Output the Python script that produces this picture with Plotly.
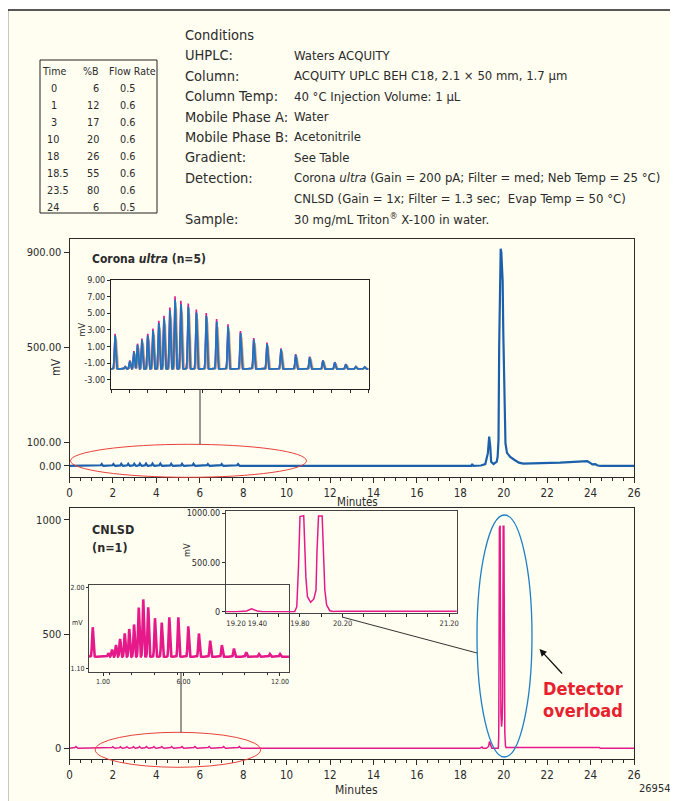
import numpy as np
import plotly.graph_objects as go

W, H = 678, 801
OFF = 8  # page body margin in the browser


def X(px):
    return (px - OFF) / W


def Y(py):
    return 1 - (py - OFF) / H


FONT = "DejaVu Sans Condensed, Liberation Sans Narrow, Liberation Sans, sans-serif"
CREAM = "#FFFEF1"
INK = "#2b2b2b"

# ---------------- gradient table ----------------
grad_time = ["0", "1", "3", "10", "18", "18.5", "23.5", "24"]
grad_pct_b = ["6", "12", "17", "20", "26", "55", "80", "6"]
grad_flow = ["0.5", "0.6", "0.6", "0.6", "0.6", "0.6", "0.6", "0.5"]

# ---------------- conditions ----------------
cond_labels = ["Conditions", "UHPLC:", "Column:", "Column Temp:", "Mobile Phase A:",
               "Mobile Phase B:", "Gradient:", "Detection:", "", "Sample:"]
cond_values = ["", "Waters ACQUITY", "ACQUITY UPLC BEH C18, 2.1 × 50 mm, 1.7 µm",
               "40 °C Injection Volume: 1 µL", "Water", "Acetonitrile", "See Table",
               "Corona <i>ultra</i> (Gain = 200 pA; Filter = med; Neb Temp = 25 °C)",
               "CNLSD (Gain = 1x; Filter = 1.3 sec;  Evap Temp = 50 °C)",
               "30 mg/mL Triton<sup>®</sup> X-100 in water."]

# ---------------- axes ticks ----------------
main_xticks = list(range(0, 27, 2))
corona_yticks = [0, 100, 500, 900]
cnlsd_yticks = [0, 500, 1000]
inset1_yticks = [-3, -1, 1, 3, 5, 7, 9]
inset2_xticks = [1, 6, 12]
inset2_yticks = [1.10, 2.00]
inset3_xticks = [19.2, 19.4, 19.6, 19.8, 20.0, 20.2, 20.4, 20.6, 20.8, 21.0, 21.2]
inset3_xlabels = ["19.20", "19.40", "", "19.80", "", "20.20", "", "", "", "", "21.20"]
inset3_yticks = [0, 500, 1000]
inset3_ylabels = ["0", "500.00", "1000.00"]

# ---------------- Corona ultra data ----------------
# oligomer peaks shown in the inset (mV, absolute)
corona_peak_t = [1.11, 1.38, 1.51, 1.62, 1.72, 1.84, 2.00, 2.14, 2.30, 2.44, 2.60, 2.74, 2.90,
                 3.10, 3.32, 3.59, 3.87, 4.18, 4.52, 4.88, 5.24, 5.62, 6.02, 6.40, 6.76, 7.08,
                 7.38, 7.65, 7.89]
corona_peak_mv = [2.33, -1.42, -0.73, 0.36, 1.20, 1.80, 2.33, 2.94, 3.83, 4.40, 5.36, 6.62, 6.13,
                  5.80, 5.12, 4.72, 4.03, 3.42, 2.66, 1.85, 1.33, 0.68, 0.00, -0.28, -0.70, -0.90,
                  -1.13, -1.42, -1.45]
corona_inset_baseline = -1.7
# replicate traces (n=5)
rep_colors = ["#F2A68E", "#E8198B", "#5DAA5A", "#7B7FB8", "#1E72C0"]
rep_shift = [0.035, 0.0, 0.012, 0.006, 0.0]
rep_scale = [0.88, 1.05, 0.97, 0.99, 1.0]
# small oligomer blips on the full-scale chromatogram
corona_small_t = [1.48, 2.02, 2.38, 2.70, 2.98, 3.24, 3.52, 3.82, 4.18, 4.68, 5.18, 5.71, 6.37, 7.01, 7.76]
corona_small_mv = [8, 8, 9, 9, 9, 10, 10, 10, 10, 9, 9, 9, 8, 8, 8]
# main chromatogram, late-eluting region
corona_main_t = [17.0, 18.5, 18.55, 18.6, 18.95, 19.15, 19.27, 19.33, 19.38, 19.42, 19.53, 19.68,
                 19.72, 19.76, 19.79, 19.82, 19.86, 19.89, 19.92, 19.95, 19.98, 20.01, 20.04,
                 20.08, 20.15, 20.3, 20.5, 20.7, 20.9, 21.7, 22.15, 22.6, 23.2, 23.85, 24.0,
                 24.08, 24.22, 24.3, 24.45, 26.0]
corona_main_mv = [0, 0, 8, 0, 2, 8, 54, 124, 82, 18, 8, 18,
                  40, 110, 500, 820, 915, 900, 850, 780, 560, 360, 180,
                  95, 55, 38, 25, 14, 10, 10, 13, 14, 18, 20, 12,
                  7, 8, 3, 0, 0]

# ---------------- CNLSD data ----------------
cnlsd_peak_t = [0.36, 1.33, 1.56, 1.81, 2.06, 2.35, 2.63, 2.93, 3.22, 3.50, 3.81, 4.23, 4.65,
                5.12, 5.68, 6.30, 6.96, 7.66, 8.39, 9.14, 9.90, 10.69, 11.37, 12.00]
cnlsd_peak_mv = [1.56, 1.27, 1.31, 1.36, 1.43, 1.49, 1.54, 1.59, 1.78, 1.87, 1.78, 1.66, 1.61,
                 1.67, 1.67, 1.57, 1.49, 1.41, 1.36, 1.32, 1.28, 1.26, 1.26, 1.26]
cnlsd_inset_baseline = 1.23
cnlsd_small_t = [0.29, 1.99, 2.34, 2.64, 2.94, 3.22, 3.54, 3.88, 4.24, 4.70, 5.17, 5.77, 6.42, 7.09, 7.81]
cnlsd_small_mv = [8, 7, 7, 7, 7, 8, 8, 8, 8, 8, 8, 8, 8, 8, 8]
cnlsd_main_t = [17.0, 18.9, 19.0, 19.05, 19.2, 19.3, 19.345, 19.4, 19.45, 19.75, 19.77, 19.786,
                19.8, 19.835, 19.845, 19.855, 19.87, 19.9, 19.93, 19.95, 19.96, 19.974, 20.008,
                20.017, 20.033, 20.05, 20.08, 20.11, 20.2, 24.4, 24.45, 26.0]
cnlsd_main_mv = [0, 0, 6, 0, 0, 8, 30, 8, 0, 0, 51, 457,
                 965, 975, 678, 356, 152, 95, 129, 220, 627, 972, 972,
                 627, 220, 68, 10, 3, 4, 4, 0, 0]

PINK = "#E6198A"
BLUE_MAIN = "#1C5FAA"


def gauss_sum(t, centers, heights, sigma):
    y = np.zeros_like(t)
    for c, h in zip(centers, heights):
        y += h * np.exp(-0.5 * ((t - c) / sigma) ** 2)
    return y


fig = go.Figure()

t_early = np.arange(0.0, 17.0, 0.004)

# ---- main Corona trace ----
y_early = gauss_sum(t_early, corona_small_t, corona_small_mv, 0.025)
fig.add_trace(go.Scatter(x=np.concatenate([t_early, corona_main_t]),
                         y=np.concatenate([y_early, corona_main_mv]),
                         mode="lines", line=dict(color=BLUE_MAIN, width=2.2),
                         xaxis="x", yaxis="y", hoverinfo="skip"))

# ---- main CNLSD trace ----
y_early2 = gauss_sum(t_early, cnlsd_small_t, cnlsd_small_mv, 0.03)
fig.add_trace(go.Scatter(x=np.concatenate([t_early, cnlsd_main_t]),
                         y=np.concatenate([y_early2, cnlsd_main_mv]),
                         mode="lines", line=dict(color=PINK, width=1.5),
                         xaxis="x2", yaxis="y2", hoverinfo="skip"))

# ---- inset 1: Corona replicates ----
t1 = np.arange(1.0, 8.0001, 0.003)
corona_rel = [h - corona_inset_baseline for h in corona_peak_mv]
for col, sh, sc in zip(rep_colors, rep_shift, rep_scale):
    y1 = corona_inset_baseline + gauss_sum(t1, [c + sh for c in corona_peak_t],
                                           [r * sc for r in corona_rel], 0.018)
    fig.add_trace(go.Scatter(x=t1, y=y1, mode="lines", line=dict(color=col, width=1.6),
                             xaxis="x3", yaxis="y3", hoverinfo="skip"))

# ---- inset 2: CNLSD oligomers ----
t2 = np.arange(0.13, 12.56, 0.004)
cnlsd_rel = [h - cnlsd_inset_baseline for h in cnlsd_peak_mv]
y2 = cnlsd_inset_baseline + gauss_sum(t2, cnlsd_peak_t, cnlsd_rel, 0.04)
fig.add_trace(go.Scatter(x=t2, y=y2, mode="lines", line=dict(color=PINK, width=2.6),
                         xaxis="x4", yaxis="y4", hoverinfo="skip"))

# ---- inset 3: CNLSD overload region ----
fig.add_trace(go.Scatter(x=cnlsd_main_t, y=cnlsd_main_mv, mode="lines",
                         line=dict(color=PINK, width=1.5),
                         xaxis="x5", yaxis="y5", hoverinfo="skip"))

xtickfont = dict(family=FONT, size=11.5, color=INK)
ytickfont = dict(family=FONT, size=11, color=INK)


def main_x(anchor):
    return dict(domain=[X(69.5), X(634)], range=[0, 26], anchor=anchor,
                tickvals=main_xticks, ticks="outside", ticklen=5, tickcolor=INK,
                showline=True, linecolor=INK, linewidth=1, mirror=True,
                showgrid=False, zeroline=False, tickfont=xtickfont,
                minor=dict(dtick=0.5, ticklen=3, ticks="outside", tickcolor=INK, showgrid=False))


def inset_axis(**kw):
    base = dict(ticks="outside", ticklen=3, tickcolor=INK, showline=True, linecolor="#222",
                mirror=True, showgrid=False, zeroline=False)
    base.update(kw)
    return base


layout = dict(
    width=W, height=H, margin=dict(l=0, r=0, t=0, b=0, autoexpand=False),
    paper_bgcolor="white", plot_bgcolor="rgba(0,0,0,0)", showlegend=False,
    font=dict(family=FONT, color=INK),
    xaxis=main_x("y"),
    yaxis=dict(domain=[Y(476.7), Y(239)], range=[-45.3, 956.4], anchor="x",
               tickvals=corona_yticks, ticktext=[f"{v:.2f}" for v in corona_yticks],
               ticks="outside", ticklen=5, tickcolor=INK, showline=True, linecolor=INK,
               mirror=True, showgrid=False, zeroline=False, tickfont=ytickfont),
    xaxis2=main_x("y2"),
    yaxis2=dict(domain=[Y(759.3), Y(508.3)], range=[-48.2, 1051], anchor="x2",
                tickvals=cnlsd_yticks, ticks="outside", ticklen=5, tickcolor=INK,
                showline=True, linecolor=INK, mirror=True, showgrid=False, zeroline=False,
                tickfont=ytickfont),
    xaxis3=inset_axis(domain=[X(111), X(368.5)], range=[1.0, 8.0], anchor="y3",
                      tickvals=list(np.arange(1.0, 8.01, 0.5)), showticklabels=False),
    yaxis3=inset_axis(domain=[Y(389), Y(280)], range=[-4.1, 9.0], anchor="x3",
                      tickvals=inset1_yticks, ticktext=[f"{v:.2f}" for v in inset1_yticks],
                      tickfont=dict(family=FONT, size=9, color=INK)),
    xaxis4=inset_axis(domain=[X(89), X(289)], range=[0.13, 12.56], anchor="y4",
                      tickvals=inset2_xticks, ticktext=[f"{v:.2f}" for v in inset2_xticks],
                      linecolor="#444", tickfont=dict(family=FONT, size=7, color=INK),
                      minor=dict(dtick=1.4, ticklen=2, ticks="outside", tickcolor=INK, showgrid=False)),
    yaxis4=inset_axis(domain=[Y(672), Y(585)], range=[1.06, 2.03], anchor="x4",
                      tickvals=inset2_yticks, ticktext=[f"{v:.2f}" for v in inset2_yticks],
                      ticklen=2, linecolor="#444", tickfont=dict(family=FONT, size=7, color=INK)),
    xaxis5=inset_axis(domain=[X(226), X(456.7)], range=[19.106, 21.27], anchor="y5",
                      tickvals=inset3_xticks, ticktext=inset3_xlabels, linecolor="#444",
                      tickfont=dict(family=FONT, size=7.5, color=INK)),
    yaxis5=inset_axis(domain=[Y(612.5), Y(511)], range=[-8, 1022], anchor="x5",
                      tickvals=inset3_yticks, ticktext=inset3_ylabels, linecolor="#444",
                      tickfont=dict(family=FONT, size=9, color=INK)),
)
fig.update_layout(**layout)

shapes = []
# cream panel with frame
shapes.append(dict(type="rect", xref="paper", yref="paper", x0=X(7.5), x1=X(720), y0=Y(840), y1=Y(10),
                   fillcolor=CREAM, line=dict(color="#222", width=1.5), layer="below"))
# gradient table box
shapes.append(dict(type="rect", xref="paper", yref="paper", x0=X(40), x1=X(157), y0=Y(213), y1=Y(60),
                   line=dict(color="#222", width=1), layer="below"))
# ellipses
shapes.append(dict(type="circle", xref="paper", yref="paper", x0=X(70.5), x1=X(306.5), y0=Y(477.3), y1=Y(444.3),
                   line=dict(color="#E8413C", width=1)))
shapes.append(dict(type="circle", xref="paper", yref="paper", x0=X(95.2), x1=X(260.6), y0=Y(767.3), y1=Y(732.3),
                   line=dict(color="#E8413C", width=1)))
shapes.append(dict(type="circle", xref="paper", yref="paper", x0=X(477), x1=X(532), y0=Y(757), y1=Y(515),
                   line=dict(color="#1E7FC6", width=1.3)))
# connector lines
for (xa, ya, xb, yb) in [(200, 389, 200, 444.3), (181, 672, 181, 732.3), (342, 617, 477, 653)]:
    shapes.append(dict(type="line", xref="paper", yref="paper", x0=X(xa), y0=Y(ya), x1=X(xb), y1=Y(yb),
                       line=dict(color="#333", width=1)))
fig.update_layout(shapes=shapes)

ann = []


def text(x, y, s, size, xanchor="left", bold=False, color=INK, angle=0):
    ann.append(dict(xref="paper", yref="paper", x=X(x), y=Y(y), text=(f"<b>{s}</b>" if bold else s),
                    showarrow=False, xanchor=xanchor, yanchor="middle", textangle=angle,
                    font=dict(family=FONT, size=size, color=color)))


# table
text(54, 71.5, "Time", 10.6, "center")
text(100.5, 71.5, "%B", 10.6, "right")
text(132.5, 71.5, "Flow Rate", 10.6, "center")
for i, (tt, bb, ff) in enumerate(zip(grad_time, grad_pct_b, grad_flow)):
    yy = 88.5 + i * 17.0
    if len(tt) == 1:
        text(54, yy, tt, 10.8, "center")
    else:
        text(45, yy, tt, 10.8, "left")
    text(100.5, yy, bb, 10.8, "right")
    text(117.5, yy, ff, 10.8, "left")

# conditions
for i, (lab, val) in enumerate(zip(cond_labels, cond_values)):
    yy = 35 + i * 20.4
    if lab:
        text(182.5, yy, lab, 14.5)
    if val:
        text(291.5, yy, val, 13)

# chart labels
text(90, 259, "Corona <i>ultra</i> (n=5)", 12, bold=True)
text(90, 529.5, "CNLSD", 12.5, bold=True)
text(90, 547, "(n=1)", 12.5, bold=True)
text(56, 368, "mV", 11.5, "center", angle=-90)
text(81.5, 330, "mV", 9, "center", angle=-90)
text(77.5, 623, "mV", 7, "center")
text(187, 550, "mV", 9, "center", angle=-90)
text(357, 502.5, "Minutes", 11.5, "center")
text(356, 790, "Minutes", 12, "center")
text(654, 788.5, "26954", 11, "center")
text(583, 688, "Detector", 18, "center", bold=True, color="#E8212E")
text(583, 710.5, "overload", 18, "center", bold=True, color="#E8212E")
# arrow
ann.append(dict(xref="paper", yref="paper", x=X(539.5), y=Y(649), ax=24, ay=26, axref="pixel", ayref="pixel",
                text="", showarrow=True, arrowhead=2, arrowsize=1.1, arrowwidth=1.3, arrowcolor="#111"))
fig.update_layout(annotations=ann)

fig.write_html("out.html")
